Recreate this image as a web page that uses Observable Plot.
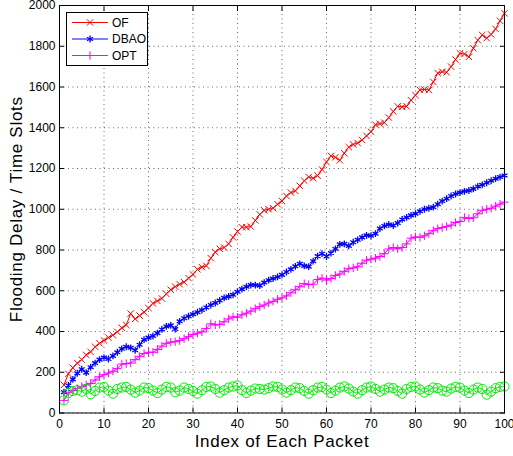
<!DOCTYPE html>
<html><head><meta charset="utf-8">
<script src="https://cdn.jsdelivr.net/npm/d3@7"></script>
<script src="https://cdn.jsdelivr.net/npm/@observablehq/plot@0.6"></script>
<style>
body{margin:0;background:#fff;}
#wrap{position:relative;width:513px;height:456px;}
svg text{font-family:"Liberation Sans",Arial,Helvetica,sans-serif;}
#legend{position:absolute;left:0;top:0;}
</style></head><body><div id="wrap"></div>
<script>
const xLabel = "Index of Each Packet";
const yLabel = "Flooding Delay / Time Slots";
const xTicks = [0,10,20,30,40,50,60,70,80,90,100];
const yTicks = [0,200,400,600,800,1000,1200,1400,1600,1800,2000];
const seriesNames = ["OF","DBAO","OPT","LB"];
const seriesColors = ["#ff0000","#0000ff","#ff00ff","#00ee00"];
const legendNames = ["OF","DBAO","OPT"];

const ofDelay = [138,192,222,245,262,285,300,325,342,356,370,382,398,418,432,488,462,478,495,515,
538,550,562,585,605,620,632,642,662,680,705,716,722,760,790,806,812,830,862,890,
912,912,915,945,975,995,1000,1005,1025,1040,1065,1082,1090,1115,1140,1158,1152,1165,1195,1232,
1262,1255,1240,1275,1305,1318,1325,1340,1360,1380,1415,1420,1425,1450,1480,1505,1502,1505,1535,1560,
1586,1588,1585,1625,1668,1675,1672,1700,1735,1765,1762,1748,1790,1830,1855,1840,1858,1885,1925,1962];

const dbaoDelay = [102,135,165,195,215,198,225,245,262,272,265,280,298,315,325,320,308,335,360,370,
378,392,410,425,430,412,450,465,475,485,495,505,518,530,540,552,565,572,580,595,
608,620,628,628,625,640,652,660,668,678,692,705,720,732,722,718,745,770,782,768,
785,805,828,830,820,838,850,862,872,870,880,905,918,925,920,932,950,960,970,978,
990,1000,1005,1010,1025,1040,1052,1065,1075,1082,1088,1092,1100,1112,1120,1130,1140,1150,1158,1166];

const optDelay = [62,100,110,120,130,138,145,162,178,188,196,205,218,240,242,245,262,278,292,298,
298,312,328,342,348,350,355,365,375,385,392,398,415,438,432,435,448,462,472,470,
482,490,500,512,522,530,540,548,558,565,575,590,605,620,635,630,632,655,662,652,
660,675,682,695,708,712,718,735,750,755,760,768,782,805,812,806,812,830,858,864,
862,870,880,895,905,910,915,922,935,940,960,955,958,978,995,1000,1005,1015,1025,1035];

const lbDelay = [62,98,108,112,105,118,92,108,125,128,110,95,118,125,128,115,100,110,125,122,
110,98,115,128,125,102,110,125,118,108,95,112,128,130,118,100,112,125,130,135,
112,98,110,120,118,115,122,130,128,115,100,112,125,122,108,95,112,125,128,115,
98,110,125,130,120,105,95,112,125,130,118,105,115,125,122,108,95,118,128,130,
115,100,112,125,122,110,105,120,128,125,110,98,115,125,118,90,105,122,128,130];

const allSeries = [ofDelay, dbaoDelay, optDelay, lbDelay];
const symbols = ["times","asterisk","plus","circle"];
const dotR = [3,3.2,2.8,4.6];
const dotW = [1,1.3,1,1];

const rows = [];
allSeries.forEach((arr, s) => arr.forEach((v, i) => rows.push({series: seriesNames[s], idx: i + 1, delay: v})));

const marks = [
  Plot.gridX(xTicks, {stroke:"#000", strokeOpacity:0.6, strokeDasharray:"1,3.5"}),
  Plot.gridY(yTicks, {stroke:"#000", strokeOpacity:0.6, strokeDasharray:"1,3.5"})
];
seriesNames.forEach((name, s) => {
  const data = rows.filter(r => r.series === name);
  marks.push(Plot.line(data, {x:"idx", y:"delay", stroke: seriesColors[s], strokeWidth:1}));
});
seriesNames.forEach((name, s) => {
  const data = rows.filter(r => r.series === name);
  marks.push(Plot.dot(data, {x:"idx", y:"delay", stroke: seriesColors[s], symbol: symbols[s], r: dotR[s], strokeWidth:dotW[s]}));
});
const plain = d => String(d);
marks.push(
  Plot.frame({stroke:"#000", strokeWidth:1}),
  Plot.axisX(xTicks, {anchor:"bottom", tickSize:-5, tickFormat:()=>"", label:null}),
  Plot.axisX(xTicks, {anchor:"top", tickSize:-5, tickFormat:()=>"", label:null}),
  Plot.axisY(yTicks, {anchor:"left", tickSize:-5, tickFormat:()=>"", label:null}),
  Plot.axisY(yTicks, {anchor:"right", tickSize:-5, tickFormat:()=>"", label:null}),
  Plot.axisX(xTicks, {anchor:"bottom", tickSize:0, tickPadding:6, fontSize:12, label:null, fill:"#000", tickFormat:plain}),
  Plot.axisY(yTicks, {anchor:"left", tickSize:0, tickPadding:4, fontSize:12, label:null, fill:"#000", tickFormat:plain}),
  Plot.text([xLabel], {text:d=>d, frameAnchor:"bottom", textAnchor:"middle", lineAnchor:"middle", dy:29, fontSize:17, fill:"#000"}),
  Plot.text([yLabel], {text:d=>d, frameAnchor:"left", textAnchor:"middle", lineAnchor:"middle", rotate:-90, dx:-43, fontSize:17, fill:"#000"})
);

const chart = Plot.plot({
  width:513, height:456,
  marginLeft:59, marginRight:9, marginTop:5, marginBottom:43.5,
  x:{domain:[0,100]},
  y:{domain:[0,2000]},
  style:{background:"#fff", color:"#000", fontFamily:"'Liberation Sans',Arial,sans-serif", overflow:"visible"},
  marks
});
d3.select(chart).selectAll("text").filter(function(){return this.textContent===xLabel||this.textContent===yLabel;})
  .attr("letter-spacing","0.7px");
document.getElementById("wrap").appendChild(chart);

// legend (inside plot area, top-left)
const lg = d3.select("#wrap").append("svg").attr("id","legend").attr("width",513).attr("height",456);
lg.append("rect").attr("x",66.5).attr("y",12.5).attr("width",81).attr("height",53)
  .attr("fill","#fff").attr("stroke","#000").attr("stroke-width",1);
const symMap = {times:d3.symbolTimes, asterisk:d3.symbolAsterisk, plus:d3.symbolPlus};
legendNames.forEach((name, i) => {
  const yy = 22.5 + i * 16.5;
  const g = lg.append("g");
  g.append("line").attr("x1",72).attr("x2",108).attr("y1",yy).attr("y2",yy)
    .attr("stroke",seriesColors[i]).attr("stroke-width",1);
  g.append("path").attr("d", d3.symbol(symMap[symbols[i]], Math.PI*dotR[i]*dotR[i])())
    .attr("transform",`translate(90,${yy})`).attr("fill","none").attr("stroke",seriesColors[i]).attr("stroke-width",dotW[i]);
  g.append("text").attr("x",112).attr("y",yy+4.3).attr("font-size",12).attr("fill","#000").text(name);
});
</script></body></html>
